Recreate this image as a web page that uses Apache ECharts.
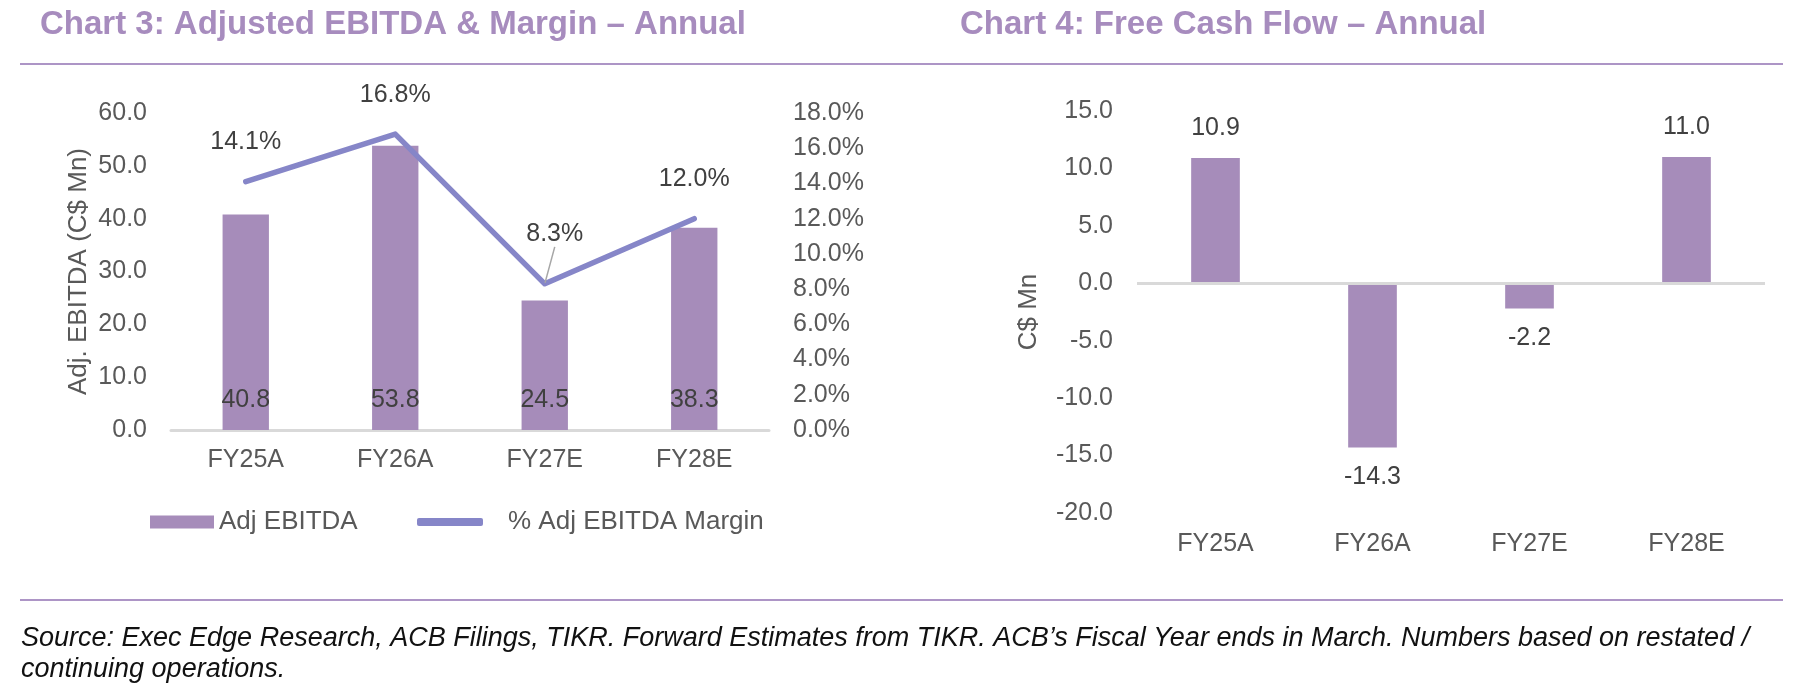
<!DOCTYPE html>
<html>
<head>
<meta charset="utf-8">
<title>Adjusted EBITDA & Free Cash Flow</title>
<script src="https://cdn.jsdelivr.net/npm/echarts@6/dist/echarts.min.js"></script>
<style>
    html, body { margin: 0; padding: 0; background: #fff; }
    #chart { width: 1799px; height: 690px; }
</style>
</head>
<body>
<div id="chart"></div>
<script>
// 数据
var categories = ['FY25A', 'FY26A', 'FY27E', 'FY28E'];
var adjEbitda = [40.8, 53.8, 24.5, 38.3];          // C$ Mn
var ebitdaMargin = [14.1, 16.8, 8.3, 12.0];        // %
var freeCashFlow = [10.9, -14.3, -2.2, 11.0];      // C$ Mn
var ebitdaTicks = { min: 0, max: 60, interval: 10 };
var marginTicks = { min: 0, max: 18, interval: 2 };
var fcfTicks = { min: -20, max: 15, interval: 5 };

var FONT = '"Liberation Sans", Arial, sans-serif';
var barColor = '#a68cba';
var lineColor = '#8686c8';
var titleColor = '#a78cbe';
var tickColor = '#595959';
var labelColor = '#404040';
var ruleColor = '#ad95c6';

var chart = echarts.init(document.getElementById('chart'));

var tickLabel = { color: tickColor, fontSize: 25, fontFamily: FONT };

var option = {
    backgroundColor: '#fff',
    animation: false,
    title: [
        { text: 'Chart 3: Adjusted EBITDA & Margin – Annual', left: 35, top: 3,
          textStyle: { color: titleColor, fontSize: 33, fontWeight: 'bold', fontFamily: FONT } },
        { text: 'Chart 4: Free Cash Flow – Annual', left: 955, top: 3,
          textStyle: { color: titleColor, fontSize: 33, fontWeight: 'bold', fontFamily: FONT } }
    ],
    legend: [
        { data: ['Adj EBITDA'], left: 145, top: 504, itemWidth: 64, itemHeight: 13, itemGap: 0,
          icon: 'rect', textStyle: { color: tickColor, fontSize: 26, fontFamily: FONT } },
        { data: ['% Adj EBITDA Margin'], left: 412, top: 504, itemWidth: 66, itemHeight: 8,
          icon: 'roundRect', textStyle: { color: tickColor, fontSize: 26, fontFamily: FONT, padding: [0, 0, 0, 20] } }
    ],
    grid: [
        { left: 171, top: 113, width: 598, height: 317 },
        { left: 1137, top: 111, width: 628, height: 402 }
    ],
    xAxis: [
        { type: 'category', gridIndex: 0, data: categories,
          axisLine: { lineStyle: { color: '#d9d9d9', width: 3 } },
          axisTick: { show: false },
          axisLabel: Object.assign({ margin: 18 }, tickLabel) },
        { type: 'category', gridIndex: 1, data: categories, position: 'bottom',
          axisLine: { show: false, onZero: false },
          axisTick: { show: false },
          axisLabel: Object.assign({ margin: 19 }, tickLabel) }
    ],
    yAxis: [
        { type: 'value', gridIndex: 0, min: ebitdaTicks.min, max: ebitdaTicks.max, interval: ebitdaTicks.interval,
          name: 'Adj. EBITDA (C$ Mn)', nameLocation: 'middle', nameGap: 79,
          nameTextStyle: { color: tickColor, fontSize: 26, fontFamily: FONT },
          splitLine: { show: false }, axisLine: { show: false }, axisTick: { show: false },
          axisLabel: Object.assign({ margin: 24, formatter: function (v) { return v.toFixed(1); } }, tickLabel) },
        { type: 'value', gridIndex: 0, position: 'right', min: marginTicks.min, max: marginTicks.max, interval: marginTicks.interval,
          splitLine: { show: false }, axisLine: { show: false }, axisTick: { show: false },
          axisLabel: Object.assign({ margin: 24, formatter: function (v) { return v.toFixed(1) + '%'; } }, tickLabel) },
        { type: 'value', gridIndex: 1, min: fcfTicks.min, max: fcfTicks.max, interval: fcfTicks.interval,
          name: 'C$ Mn', nameLocation: 'middle', nameGap: 95,
          nameTextStyle: { color: tickColor, fontSize: 26, fontFamily: FONT },
          splitLine: { show: false }, axisLine: { show: false }, axisTick: { show: false },
          axisLabel: Object.assign({ margin: 24, formatter: function (v) { return v.toFixed(1); } }, tickLabel) }
    ],
    series: [
        {
            name: 'Adj EBITDA', type: 'bar', xAxisIndex: 0, yAxisIndex: 0,
            data: adjEbitda, barWidth: '31%',
            itemStyle: { color: barColor },
            label: { show: true, position: 'insideBottom', distance: 17, color: labelColor, fontSize: 25, fontFamily: FONT,
                     formatter: function (p) { return p.value.toFixed(1); } }
        },
        {
            name: '% Adj EBITDA Margin', type: 'line', xAxisIndex: 0, yAxisIndex: 1, z: 5,
            data: ebitdaMargin.map(function (v, i) {
                return i === 2 ? { value: v, labelLine: { show: true, lineStyle: { color: '#a6a6a6', width: 1.5 } } } : v;
            }),
            showSymbol: true, symbol: 'circle', symbolSize: 2,
            lineStyle: { color: lineColor, width: 5.5, cap: 'round', join: 'round' },
            itemStyle: { color: lineColor },
            label: { show: true, position: 'top', distance: 26, color: labelColor, fontSize: 25, fontFamily: FONT,
                     formatter: function (p) { return p.value.toFixed(1) + '%'; } },
            labelLayout: function (params) {
                if (params.dataIndex === 2) { return { dx: 10, dy: -10 }; }
            }
        },
        {
            name: 'Free Cash Flow', type: 'bar', xAxisIndex: 1, yAxisIndex: 2,
            data: freeCashFlow, barWidth: '31%',
            itemStyle: { color: barColor },
            label: { show: true, position: 'outside', distance: 17, color: labelColor, fontSize: 25, fontFamily: FONT,
                     formatter: function (p) { return p.value.toFixed(1); } },
            markLine: {
                silent: true, symbol: 'none', label: { show: false },
                lineStyle: { color: '#d9d9d9', width: 3, type: 'solid' },
                data: [{ yAxis: 0 }]
            }
        }
    ],
    graphic: [
        { type: 'rect', shape: { x: 20, y: 63, width: 1763, height: 2 }, style: { fill: ruleColor }, silent: true },
        { type: 'rect', shape: { x: 20, y: 599, width: 1763, height: 2 }, style: { fill: ruleColor }, silent: true },
        { type: 'text', left: 21, top: 623, silent: true,
          style: { text: 'Source: Exec Edge Research, ACB Filings, TIKR. Forward Estimates from TIKR. ACB’s Fiscal Year ends in March. Numbers based on restated /\ncontinuing operations.',
                   fill: '#111', font: 'italic 27px "Liberation Sans", Arial, sans-serif', lineHeight: 31 } }
    ]
};

chart.setOption(option);
</script>
</body>
</html>
